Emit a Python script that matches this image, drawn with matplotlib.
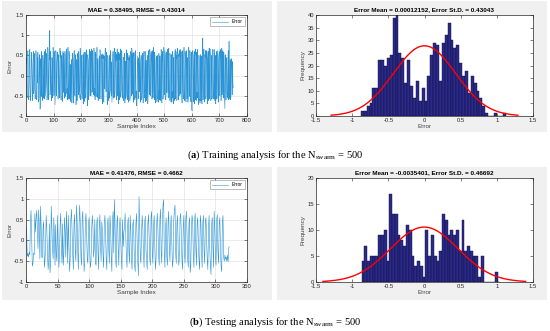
import numpy as np
import matplotlib
import matplotlib.pyplot as plt
from matplotlib.patches import Rectangle

matplotlib.use("agg")

# training error per sample (hundredths)
train_err_pct = [
    30, 45, -40, -55, -20, 52, 62, 40, -35, -60, -48, 15, 58, 65, -25, -55, -62, -38, 40, 58, 35, -12, -62, -45, 30,
    50, 60, -45, -35, 55, 40, -30, -58, -50, 22, 62, 48, -28, -60, -40, 45, -18, 58, 35, -42, -66, -55, 40, 52, -30,
    -83, -60, 42, 15, -52, 60, 52, -38, -62, -45, 50, 30, -48, -56, 38, 60, -22, -58, 45, 65, -50, -35, -15, 55, 42,
    -60, -52, 35, 70, 55, -42, -60, 22, 66, 40, 112, -48, -32, 60, 45, -25, -62, -52, 45, 38, -55, -42, 70, 48, -35,
    -50, -42, 60, 38, -72, -48, -30, 62, 55, -50, -40, 32, 48, 58, 45, -58, -45, 52, 28, -28, -55, -48, 68, 45, 60,
    -48, -60, 35, 50, 22, -64, -52, 48, 60, -42, 30, 55, 38, -56, -40, 60, 48, -40, -52, -20, 66, 50, -45, -32, -60,
    42, 70, -38, -58, -28, 60, 48, -58, -44, 28, -52, -64, -42, 32, 40, -68, -55, 56, 48, 35, -42, -68, 45, 60, 62,
    -40, -50, 52, 42, 25, -72, -58, 40, 32, -62, 50, 55, 45, -30, -48, 60, 42, -56, -40, -25, 68, 52, -60, -48, -45,
    50, 40, -58, -46, -20, 52, 44, -32, -70, 58, -64, -42, -30, 58, 28, -56, -46, 64, 42, 30, -52, -75, 50, 52, 35,
    -60, -56, 40, 45, 65, -32, -50, 60, 42, -50, 42, 66, 45, -42, -35, 62, 56, -36, -48, -28, 68, 54, -50, -32, -60,
    46, 58, -44, -52, -40, 38, 70, -54, -42, 42, -62, -56, -44, 32, 48, -58, -46, 64, 42, 36, -56, -58, 44, 52, 40,
    -38, -70, 54, 42, 50, -60, -66, 48, 44, -32, 54, 68, 46, -36, -40, 58, 56, -34, -72, -52, 50, 44, -62, -58, -40,
    40, 50, -56, -40, -38, 62, 46, -44, -50, 34, -66, -52, -40, 42, 60, -56, -46, 36, 64, 68, -54, -38, 52, 58, 46,
    -42, -60, 52, 38, 66, -32, -50, 56, 44, -70, 58, 40, 54, -60, -36, 48, 66, -54, -42, -36, 62, 58, -50, -44, -56,
    38, 46, -62, -60, -50, 40, 56, -68, -42, 36, -58, -54, -46, 64, 32, -48, -60, 56, 40, 44, -66, -58, 50, 38, 44,
    -62, -54, 42, 60, 56, -36, -50, 68, 60, -46, 40, 56, 54, -42, -66, 58, 36, -50, -60, -44, 48, 62, -56, -38, -72,
    -75, -50, 48, 38, 30, -58, -52, 44, 30, -40, 58, 50, 35, -66, -54, 35, 50, -46, -60, -48, 56, 38, -48, -68, -54,
    44, 60, -42, -55, -40, 60, 48, -65, -52, 38, -62, -58, -45, 30, 50, -70, -45, 58, 62, 40, -40, -48, 65, 55, 50,
    -50, -42, 60, 35, 52, -58, -45, 38, 62, -55, 42, 70, 50, -38, -60, 58, 45, -52, -68, -60, 40, 48, -55, -65, -62,
    42, 50, -58, -38, -66, 55, 45, -60, -52, 48, -62, -58, -40, 65, 55, -42, -68, 52, 38, 60, -58, -45, 50, 70, 62,
    -40, -48, 62, 55, 50, -60, -45, 52, 58, -42, 62, 65, 50, -45, -55, 60, 68, -38, -48, -62, 55, 50, -42, -58, -65,
    45, 52, -66, -40, -55, 60, 48, -58, -70, 45, -52, -62, -40, 55, 65, -48, -58, 60, 42, 50, -62, -58, 45, 68, 55,
    -40, -60, 52, 48, 62, -38, -50, 65, 55, -45, 60, 58, 42, -52, -68, 62, 48, -40, -58, -55, 45, 70, -62, -48, -52,
    60, 38, -55, -65, -45, 50, 62, -58, -48, 45, -66, -60, -40, 70, 58, -52, -45, 62, 60, 48, -52, -65, 42, 58, -80,
    -87, -50, 62, 58, 45, -65, -55, 42, 60, -70, 48, 52, 66, -60, -50, 45, 58, -62, -42, -55, 65, 48, -52, -72, -60,
    50, 45, -62, -58, -68, 52, 45, -62, -60, 48, -55, -70, -40, 55, 93, -60, -48, 50, 66, 42, -58, -65, 52, 45, 62,
    -58, -48, 62, 55, 40, -70, -55, 45, 60, -62, 48, 52, 68, -58, -45, 66, 52, -40, -62, -60, 50, 48, -58, -55, -42,
    65, 60, -50, -48, -58, 65, 42, -55, -62, 50, -45, -70, -55, 40, 60, -58, -48, 62, 52, 45, -66, -55, 40, 60, 58,
    -48, -50, 65, 45, 58, -62, -42, 55, 68, -48, 50, 60, 62, -42, -55, 58, 45, -50, -70, -82, 48, 52, -40, -60, -45,
    38, 45, -42, -55, -48, 35, 62, -52, -60, 85, -40, -45, -58, 40, 38, -60, -50, 35, 42, 28, -48, -45, 35, -20, -30,
]

# testing error per sample (hundredths)
test_err_pct = [
    30, -38, -32, -40, -28, -35, 45, 72, 10, -62, -55, -30, -35, 65, 20, 55, 72, 30, -20, 74,
    40, -45, 82, 35, -40, -42, 30, 45, -65, -50, -10, 60, 25, -30, -70, -50, 40, -78, -55, 82,
    35, -20, -45, 55, 10, -60, 38, -35, -50, 60, -15, -65, -40, 38, 65, -20, -55, 40, -60, -30,
    55, 25, -40, 70, 30, -55, 60, -10, -75, -45, 50, 75, 20, -35, -70, 40, 62, -25, -50, 85,
    45, -30, -70, 30, 85, 40, -40, -60, 55, 70, -15, -75, -50, 45, 65, 20, -45, -55, 40, 55,
    -30, -65, -50, 25, 60, 35, -40, -20, 50, -55, -60, 40, 55, -25, -70, 30, 62, -10, -50, 45,
    25, -35, -65, 40, 60, 20, -45, -70, 35, 55, -20, -55, 60, 30, -40, -75, 50, 70, -30, 98,
    40, -50, -65, 45, 60, -20, -60, 35, 55, 0, -45, -70, 50, -15, 20, 30, 65, 15, -40, -65,
    40, 55, -30, -55, 60, 25, -45, -70, 35, 50, -10, -60, -75, 40, 65, 0, -50, -85, 105, 40,
    -40, -55, 20, 60, 30, -30, -65, 45, 58, -20, -50, -70, 40, 62, 10, -45, -60, 55, 70, -30,
    -55, 35, 60, -15, -70, -45, 40, 65, 20, -35, -60, 50, 75, -25, -55, 40, 85, 98, -30, -65,
    30, 55, -40, -60, 45, 70, -20, -50, 35, 60, -10, -65, -45, 50, 72, 85, -30, -55, 40, 60,
    -25, -60, -40, 55, 65, 20, -50, -70, 30, 60, -30, -55, 50, 70, 10, -45, -65, 40, 55, -77,
    -60, 30, 60, 45, -35, -65, 50, 65, -20, -60, 40, 55, -10, -50, -70, 60, 45, -30, -65, 40,
    60, -25, -55, 45, 55, 0, -45, -70, 30, 60, -20, -60, -82, 40, 55, -15, -65, 70, 30, -40,
    -60, 50, 62, -30, -55, 40, 55, -20, -65, -75, 45, 60, -40, -50, -35, -45, -40, -50, -35, -52, -18, -15,
]

# histogram counts
train_counts = [2, 2, 4, 5, 11, 11, 22, 22, 20, 23, 24, 39, 40, 25, 23, 13, 22, 12, 7, 14,
                6, 11, 6, 16, 24, 29, 28, 14, 29, 32, 37, 30, 27, 28, 21, 16, 18, 9, 16, 13,
                10, 7, 4, 1, 0, 0, 1, 0, 0, 1]
train_bin_lo, train_bin_hi = -0.88, 1.12
test_counts = [4, 7, 4, 5, 5, 5, 9, 9, 10, 4, 17, 13, 13, 9, 8, 7, 11, 10, 5, 3,
               4, 3, 1, 10, 5, 9, 5, 4, 6, 13, 12, 9, 10, 9, 10, 6, 12, 6, 7, 6,
               5, 5, 1, 5, 0, 0, 0, 0, 2, 0]
test_bin_lo, test_bin_hi = -0.87, 1.05

train_stats = {"mae": "0.38495", "rmse": "0.43014", "mean": 0.00012152, "std": 0.43043}
test_stats = {"mae": "0.41476", "rmse": "0.4662", "mean": -0.0035401, "std": 0.46692}

W, H = 550, 331
TICK_C = "#262626"
LINE_C = "#2a93d5"

plt.rcParams["font.family"] = ["Liberation Sans", "DejaVu Sans"]
plt.rcParams["mathtext.fontset"] = "custom"
plt.rcParams["mathtext.rm"] = "Liberation Serif"
plt.rcParams["mathtext.bf"] = "Liberation Serif:bold"

fig = plt.figure(figsize=(W / 100, H / 100), dpi=100)
fig.patch.set_facecolor("white")


def px_axes(x0, y0, x1, y1):
    ax = fig.add_axes([x0 / W, 1 - y1 / H, (x1 - x0) / W, (y1 - y0) / H])
    ax.set_zorder(2)
    return ax


def style_ax(ax):
    ax.tick_params(direction="in", length=2, width=0.4, labelsize=4.2,
                   colors=TICK_C, pad=1.5, top=True, right=True)
    for s in ax.spines.values():
        s.set_linewidth(0.5)
        s.set_color(TICK_C)


# gray figure panels
for (x0, y0, x1, y1) in [(2, 1, 272, 132), (277, 1, 547, 132),
                         (2, 167, 272, 300), (277, 167, 547, 300)]:
    fig.patches.append(Rectangle((x0 / W, 1 - y1 / H), (x1 - x0) / W, (y1 - y0) / H,
                                 transform=fig.transFigure, facecolor="#f0f0f0",
                                 edgecolor="none", zorder=-5))


def series_panel(box, err_pct, xmax, stats):
    ax = px_axes(*box)
    err = np.array(err_pct) / 100
    idx = np.arange(1, len(err) + 1)
    ax.plot(idx, err, color=LINE_C, lw=0.4, label="Error")
    ax.set_xlim(0, xmax)
    ax.set_ylim(-1, 1.5)
    ax.set_yticks([-1, -0.5, 0, 0.5, 1, 1.5])
    ax.set_yticklabels(["-1", "-0.5", "0", "0.5", "1", "1.5"])
    ax.grid(True, color="#dcdcdc", lw=0.4)
    ax.set_axisbelow(True)
    style_ax(ax)
    ax.set_xlabel("Sample Index", fontsize=4.6, color="#404040", labelpad=1)
    ax.set_ylabel("Error", fontsize=4.6, color="#404040", labelpad=1)
    ax.set_title(f"MAE = {stats['mae']}, RMSE = {stats['rmse']}",
                 fontsize=4.6, fontweight="bold", pad=2.5)
    leg = ax.legend(loc="upper right", fontsize=3.5, handlelength=3.2,
                    borderpad=0.4, fancybox=False, framealpha=1)
    leg.get_frame().set_linewidth(0.4)
    leg.get_frame().set_edgecolor("#888888")


def hist_panel(box, counts, lo, hi, ymax, yticks, n, stats):
    ax = px_axes(*box)
    edges = np.linspace(lo, hi, len(counts) + 1)
    bw = edges[1] - edges[0]
    ax.bar(edges[:-1], counts, width=bw, align="edge", color="#2b2a8a",
           edgecolor="#0d0d30", lw=0.3)
    mu, sd = stats["mean"], stats["std"]
    xs = np.linspace(mu - 3 * sd, mu + 3 * sd, 300)
    ys = n * bw * np.exp(-0.5 * ((xs - mu) / sd) ** 2) / (sd * np.sqrt(2 * np.pi))
    ax.plot(xs, ys, color="red", lw=1.0)
    ax.set_xlim(-1.5, 1.5)
    ax.set_ylim(0, ymax)
    ax.set_xticks([-1.5, -1, -0.5, 0, 0.5, 1, 1.5])
    ax.set_xticklabels(["-1.5", "-1", "-0.5", "0", "0.5", "1", "1.5"])
    ax.set_yticks(yticks)
    style_ax(ax)
    ax.set_xlabel("Error", fontsize=4.6, color="#404040", labelpad=1)
    ax.set_ylabel("Frequency", fontsize=4.6, color="#404040", labelpad=1)
    ax.set_title(f"Error Mean = {stats['mean']:.5g}, Error St.D. = {stats['std']:.5g}",
                 fontsize=4.6, fontweight="bold", pad=2.5)


series_panel((26, 15, 247, 116), train_err_pct, 800, train_stats)
hist_panel((316, 15, 533, 116), train_counts, train_bin_lo, train_bin_hi,
           40, range(0, 41, 5), len(train_err_pct), train_stats)
series_panel((26, 178, 247, 282), test_err_pct, 350, test_stats)
hist_panel((316, 178, 533, 282), test_counts, test_bin_lo, test_bin_hi,
           20, range(0, 21, 5), len(test_err_pct), test_stats)

fig.text(0.5, 1 - 155 / H, r"($\mathbf{a}$) Training analysis for the N$_{\mathrm{swarm}}$ = 500",
         ha="center", va="center", fontsize=7.6, family="Liberation Serif")
fig.text(0.5, 1 - 322 / H, r"($\mathbf{b}$) Testing analysis for the N$_{\mathrm{swarm}}$ = 500",
         ha="center", va="center", fontsize=7.6, family="Liberation Serif")

fig.savefig("out.png", dpi=100)
plt.close("all")
